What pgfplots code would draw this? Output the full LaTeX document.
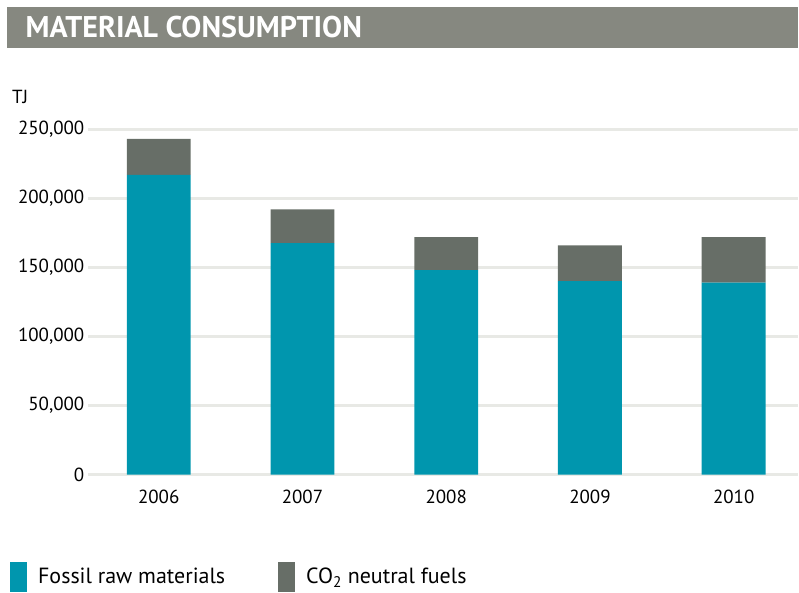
\documentclass[border=0pt]{standalone}
\usepackage{fontspec}
\setmainfont{PT Sans}
\usepackage{pgfplots}
\pgfplotsset{compat=1.18}

\definecolor{fossil}{RGB}{0,150,174}
\definecolor{neutral}{RGB}{103,110,103}
\definecolor{titlegray}{RGB}{134,136,128}
\definecolor{gridgray}{RGB}{232,233,229}

\begin{document}
\begin{tikzpicture}[x=1pt,y=1pt]
\begin{axis}[
    name=ax,
    scale only axis, width=711pt, height=346pt,
    xmin=-0.493, xmax=4.444, ymin=0, ymax=250000,
    ybar stacked, bar width=64pt,
    clip=false,
    axis line style={draw=none},
    major tick length=0pt,
    xtick={0,1,2,3,4},
    xticklabels={2006,2007,2008,2009,2010},
    ytick={0,50000,100000,150000,200000,250000},
    yticklabels={0,{50,000},{100,000},{150,000},{200,000},{250,000}},
    scaled y ticks=false,
    ymajorgrids,
    grid style={gridgray, line width=3pt},
    tick label style={font=\fontsize{19}{22}\selectfont},
    xticklabel style={yshift=-12pt},
    legend columns=2,
    legend image code/.code={\fill[#1] (0pt,-15pt) rectangle (17pt,15pt);},
    legend style={at={(-0.1097,-0.296)}, anchor=west, draw=none, fill=none,
        inner sep=0pt, font=\fontsize{22}{25}\selectfont,
        nodes={inner sep=0pt, anchor=west},
        /tikz/every odd column/.append style={column sep=11pt},
        /tikz/every even column/.append style={column sep=53pt}},
]
\addplot[fill=fossil, draw=none] coordinates {(0,217000) (1,167500) (2,148000) (3,140000) (4,139000)};
\addplot[fill=neutral, draw=none] coordinates {(0,26000) (1,24500) (2,24000) (3,26000) (4,33000)};
\legend{Fossil raw materials, CO\textsubscript{2} neutral fuels}
\end{axis}

% page frame and decorations, relative to the axis corner (88,118.5)
\begin{scope}[shift={(ax.south west)}, xshift=-88pt, yshift=-118.5pt]
\useasboundingbox (0,0) rectangle (799,594);
\fill[titlegray] (7,546) rectangle (799,587);
\node[anchor=base west, inner sep=0pt, text=white,
      font=\fontsize{30}{33}\selectfont\bfseries] at (25.5,556.5) {MATERIAL CONSUMPTION};
\node[anchor=base west, inner sep=0pt, font=\fontsize{19}{22}\selectfont] at (12,490) {TJ};
\end{scope}
\end{tikzpicture}
\end{document}
